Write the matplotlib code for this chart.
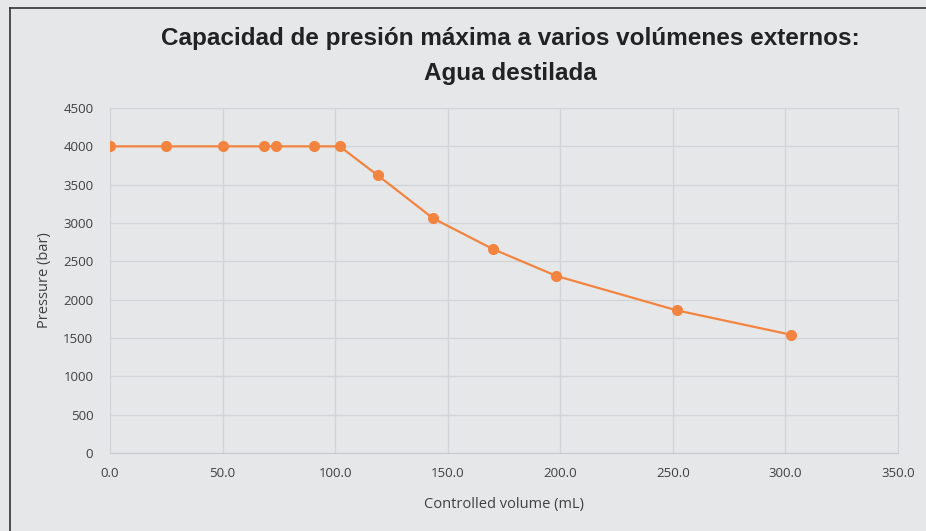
import matplotlib.pyplot as plt
from matplotlib.lines import Line2D

# data
volume_ml = [0, 25, 50, 68.4, 73.7, 90.8, 102, 118.9, 143.5, 170, 198.3, 251.7, 302.4]
pressure_bar = [4000, 4000, 4000, 4000, 4000, 4000, 4000, 3622, 3061, 2661, 2309, 1861, 1543]

x_ticks = [0, 50, 100, 150, 200, 250, 300, 350]
y_ticks = [0, 500, 1000, 1500, 2000, 2500, 3000, 3500, 4000, 4500]

title = "Capacidad de presión máxima a varios volúmenes externos:\nAgua destilada"

bg = "#E6E7E9"
grid_col = "#D3D4D7"
orange = "#F3843F"
text_col = "#404040"

fig = plt.figure(figsize=(9.26, 5.31), dpi=100)
fig.patch.set_facecolor(bg)
ax = fig.add_axes([110 / 926, 1 - 453 / 531, 788 / 926, 345 / 531])
ax.set_facecolor(bg)

ax.plot(volume_ml, pressure_bar, color=orange, lw=1.6, marker="o", ms=8,
        markeredgewidth=0, zorder=3)

ax.set_xlim(0, 350)
ax.set_ylim(0, 4500)
ax.set_xticks(x_ticks)
ax.set_xticklabels([f"{v:.1f}" for v in x_ticks])
ax.set_yticks(y_ticks)
ax.grid(True, color=grid_col, lw=1)
ax.set_axisbelow(True)
for side in ["top", "right", "left"]:
    ax.spines[side].set_color(grid_col)
ax.spines["bottom"].set_color("#C8C9CC")
ax.tick_params(length=0, colors=text_col, labelsize=9.5)
ax.tick_params(axis="y", pad=12)
ax.tick_params(axis="x", pad=10)
for lab in ax.get_xticklabels() + ax.get_yticklabels():
    lab.set_fontfamily("Open Sans")

ax.set_xlabel("Controlled volume (mL)", fontfamily="Open Sans", fontsize=10.5,
              color=text_col, labelpad=12)
ax.set_ylabel("Pressure (bar)", fontfamily="Open Sans", fontsize=10.5,
              color=text_col, labelpad=8)

fig.text(0.551, 1 - 56 / 531, title, ha="center", va="center",
         fontfamily="Liberation Sans", fontweight="bold", fontsize=17.5,
         color="#222222", linespacing=1.62)

# frame lines at top and left like the source
fig.add_artist(Line2D([9.5 / 926, 9.5 / 926], [0, 1 - 8 / 531], color="#333333", lw=1.2))
fig.add_artist(Line2D([9.5 / 926, 1], [1 - 8 / 531, 1 - 8 / 531], color="#333333", lw=1.2))

fig.savefig("out.png", dpi=100, facecolor=bg)
